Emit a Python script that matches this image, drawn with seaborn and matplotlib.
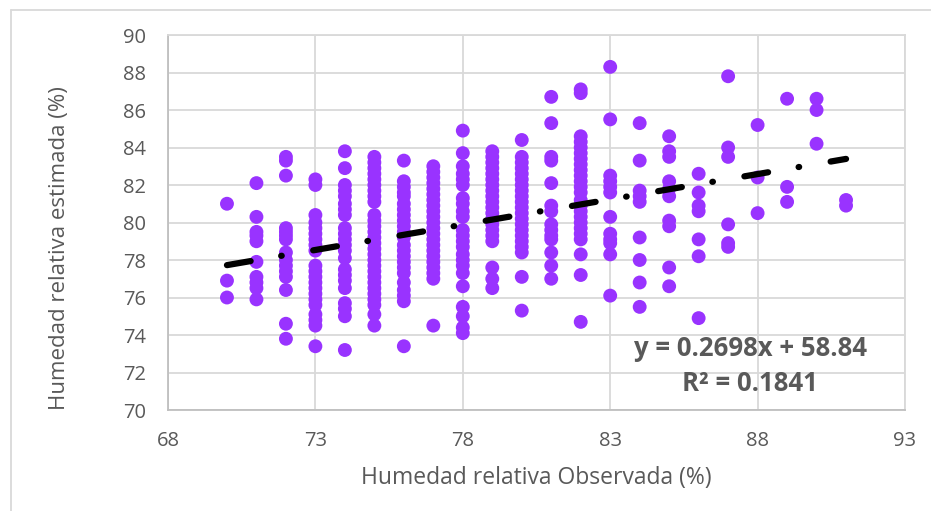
import matplotlib
matplotlib.use("Agg")
import matplotlib.pyplot as plt
from matplotlib.lines import Line2D
import seaborn as sns
import pandas as pd

# ---- data ----
x_levels = [70, 71, 72, 73, 74, 75, 76, 77, 78, 79, 80,
            81, 82, 83, 84, 85, 86, 87, 88, 89, 90, 91]

y70 = [81.0, 76.9, 76.0]
y71 = [82.1, 80.3, 79.5, 79.3, 79.0, 77.9, 77.1, 76.8, 76.5, 75.9]
y72 = [83.5, 83.3, 82.5, 79.7, 79.5, 79.3, 79.1, 78.4, 78.0, 77.7, 77.4,
       77.1, 76.4, 74.6, 73.8]
y73 = [82.3, 82.0, 80.4, 80.0, 79.7, 79.4, 79.1, 78.8, 78.5, 77.7, 77.4,
       77.1, 76.8, 76.5, 76.2, 75.9, 75.6, 75.1, 74.8, 74.5, 73.4]
y74 = [83.8, 82.9, 82.0, 81.7, 81.4, 81.0, 80.7, 80.4, 79.7, 79.4, 79.1,
       78.8, 78.5, 78.1, 77.5, 77.2, 76.9, 76.5, 75.7, 75.4, 75.0, 73.2]
y75 = [83.5, 83.2, 82.9, 82.6, 82.3, 82.0, 81.7, 81.4, 81.1, 80.4, 80.1,
       79.8, 79.5, 79.2, 78.9, 78.6, 78.3, 78.0, 77.7, 77.4, 77.1, 76.8,
       76.5, 76.2, 75.9, 75.6, 75.1, 74.5]
y76 = [83.3, 82.2, 81.9, 81.6, 81.4, 81.0, 80.7, 80.4, 80.1, 79.8, 79.5,
       79.2, 78.8, 78.5, 78.2, 77.9, 77.6, 77.3, 76.8, 76.4, 76.1, 75.8, 73.4]
y77 = [83.0, 82.7, 82.4, 82.1, 81.8, 81.5, 81.2, 80.9, 80.6, 80.3, 80.0,
       79.7, 79.4, 79.1, 78.8, 78.5, 78.2, 77.9, 77.6, 77.3, 77.0, 74.5]
y78 = [84.9, 83.7, 83.0, 82.6, 82.3, 82.0, 81.3, 81.0, 80.6, 80.3, 79.6,
       79.3, 79.0, 78.7, 78.3, 78.0, 77.7, 77.3, 76.6, 75.5, 75.0, 74.4, 74.1]
y79 = [83.8, 83.5, 83.2, 82.9, 82.6, 82.3, 82.0, 81.7, 81.4, 81.1, 80.8,
       80.5, 80.2, 79.9, 79.6, 79.3, 79.0, 77.6, 77.0, 76.5]
y80 = [84.4, 83.5, 83.2, 82.9, 82.6, 82.3, 82.0, 81.7, 81.4, 81.1, 80.8,
       80.5, 80.2, 79.9, 79.6, 79.3, 79.0, 78.7, 78.4, 77.1, 75.3]
y81 = [86.7, 85.3, 83.5, 83.3, 82.1, 80.9, 80.6, 79.9, 79.6, 79.3, 79.1,
       78.4, 77.7, 77.0]
y82 = [87.1, 86.9, 84.6, 84.3, 84.0, 83.7, 83.4, 83.1, 82.8, 82.5, 82.2,
       81.9, 81.6, 81.2, 80.9, 80.6, 80.3, 80.0, 79.7, 79.4, 79.1, 78.3,
       77.2, 74.7]
y83 = [88.3, 85.5, 82.5, 82.2, 81.9, 81.6, 80.3, 79.4, 79.1, 78.9, 78.3, 76.1]
y84 = [85.3, 83.3, 81.7, 81.4, 81.1, 79.2, 78.0, 76.8, 75.5]
y85 = [84.6, 83.8, 83.5, 82.2, 81.8, 81.4, 80.1, 79.8, 77.6, 76.6]
y86 = [82.6, 81.6, 80.9, 80.6, 79.1, 78.2, 74.9]
y87 = [87.8, 84.0, 83.5, 79.9, 78.9, 78.7]
y88 = [85.2, 82.4, 80.5]
y89 = [86.6, 81.9, 81.1]
y90 = [86.6, 86.0, 84.2]
y91 = [81.2, 80.9]

slope = 0.2698
intercept = 58.84
r_squared = 0.1841
x_ticks = [68, 73, 78, 83, 88, 93]
y_ticks = [70, 72, 74, 76, 78, 80, 82, 84, 86, 88, 90]
x_label = "Humedad relativa Observada (%)"
y_label = "Humedad relativa estimada (%)"

columns = [y70, y71, y72, y73, y74, y75, y76, y77, y78, y79, y80,
           y81, y82, y83, y84, y85, y86, y87, y88, y89, y90, y91]
obs, est = [], []
for xv, ys in zip(x_levels, columns):
    obs.extend([xv] * len(ys))
    est.extend(ys)
df = pd.DataFrame({"obs": obs, "est": est})

trend = pd.DataFrame({"obs": [min(x_levels), max(x_levels)]})
trend["est"] = intercept + slope * trend["obs"]

# ---- styling ----
sns.set_theme(style="white")
plt.rcParams["font.family"] = ["Open Sans", "DejaVu Sans"]
plt.rcParams["lines.scale_dashes"] = False

W, H = 931, 511
fig = plt.figure(figsize=(W / 100, H / 100), dpi=100)
fig.patch.set_facecolor("white")

# outer chart border (only left/top visible in the reference)
fig.add_artist(Line2D([11 / W, 11 / W], [0, 1 - 10 / H], color="#D9D9D9", lw=1.3,
                      transform=fig.transFigure))
fig.add_artist(Line2D([11 / W, 1], [1 - 10 / H, 1 - 10 / H], color="#D9D9D9", lw=1.3,
                      transform=fig.transFigure))

L, R, T, B = 168, 905, 35, 410
ax = fig.add_axes([L / W, 1 - B / H, (R - L) / W, (B - T) / H])

sns.scatterplot(data=df, x="obs", y="est", s=100, color="#9933FF",
                edgecolor="none", linewidth=0, ax=ax, zorder=3, legend=False)
sns.lineplot(data=trend, x="obs", y="est", color="black", linewidth=4.5,
             ax=ax, zorder=4, legend=False)
line = ax.lines[-1]
line.set_dashes([17.3, 22.3, 0.4, 23.0])
line.set_dash_capstyle("round")
line.set_solid_capstyle("round")

ax.set_xlim(68, 93)
ax.set_ylim(70, 90)
ax.set_xticks(x_ticks)
ax.set_yticks(y_ticks)
ax.grid(True, color="#D9D9D9", linewidth=1.3, zorder=0)
ax.set_axisbelow(True)
for side in ["top", "right"]:
    ax.spines[side].set_color("#D9D9D9")
    ax.spines[side].set_linewidth(1.3)
for side in ["left", "bottom"]:
    ax.spines[side].set_color("#BFBFBF")
    ax.spines[side].set_linewidth(1.3)

ax.tick_params(axis="both", length=0, labelsize=14.5, labelcolor="#595959")
ax.tick_params(axis="x", pad=15)
ax.tick_params(axis="y", pad=16)

ax.set_xlabel(x_label, fontsize=16.5, color="#595959")
ax.set_ylabel(y_label, fontsize=16, color="#595959")
ax.xaxis.set_label_coords(0.5, (B - 466) / (B - T))
ax.yaxis.set_label_coords((70 - L) / (R - L), (B - 248) / (B - T))

fig.text(750 / W, 1 - 348 / H, f"y = {slope}x + {intercept}", ha="center",
         va="center", fontsize=18.5, fontweight="bold", color="#595959")
fig.text(750 / W, 1 - 383 / H, f"R² = {r_squared}", ha="center",
         va="center", fontsize=18.5, fontweight="bold", color="#595959")

fig.savefig("out.png", dpi=100)
